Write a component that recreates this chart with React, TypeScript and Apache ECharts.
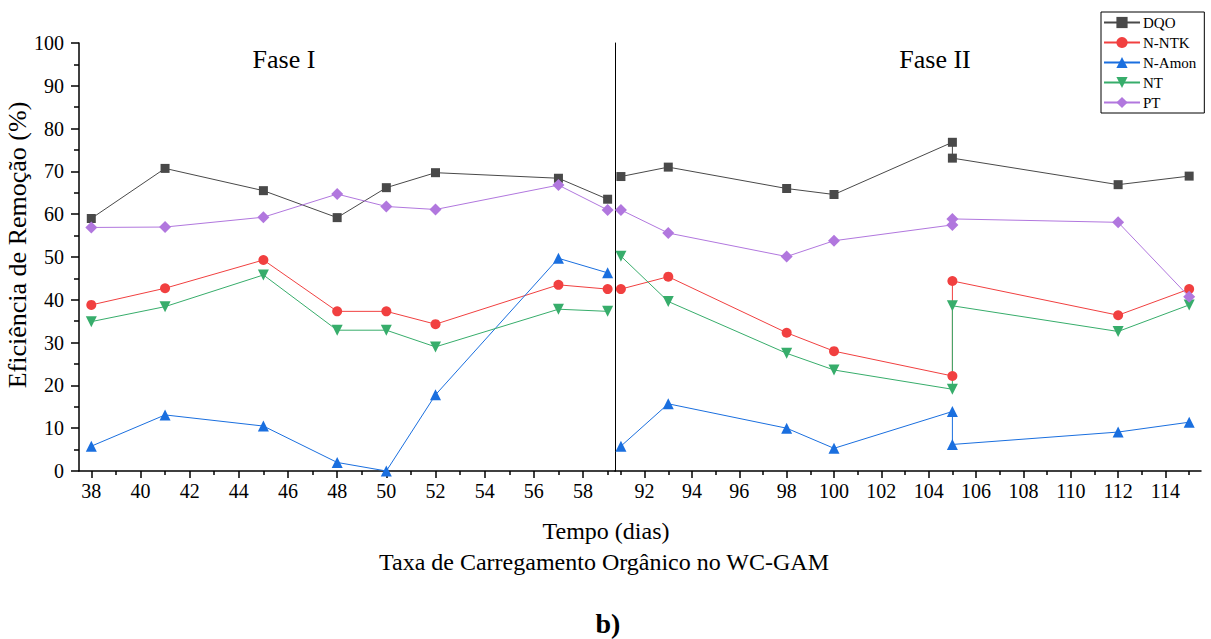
import React, { useEffect, useRef } from "react";
import * as echarts from "echarts";

const FONT = "'Liberation Serif', 'Times New Roman', serif";

const daysFase1 = [38, 41, 45, 48, 50, 52, 57, 59];
const daysFase2 = [91, 93, 98, 100, 105, 105, 112, 115];

const dqo1 = [59.0, 70.7, 65.5, 59.2, 66.2, 69.7, 68.4, 63.5];
const dqo2 = [68.8, 71.0, 66.0, 64.6, 76.8, 73.1, 66.9, 68.9];
const ntk1 = [38.8, 42.7, 49.3, 37.3, 37.3, 34.3, 43.5, 42.5];
const ntk2 = [42.5, 45.4, 32.3, 28.0, 22.2, 44.4, 36.4, 42.5];
const amon1 = [5.8, 13.1, 10.5, 2.0, 0.0, 17.8, 49.7, 46.3];
const amon2 = [5.8, 15.7, 10.0, 5.3, 13.9, 6.2, 9.1, 11.4];
const nt1 = [34.9, 38.4, 45.8, 32.9, 32.9, 29.0, 37.8, 37.3];
const nt2 = [50.2, 39.6, 27.5, 23.6, 19.1, 38.6, 32.6, 38.8];
const pt1 = [56.9, 57.0, 59.3, 64.7, 61.8, 61.1, 66.8, 61.0];
const pt2 = [61.0, 55.6, 50.1, 53.8, 57.5, 58.9, 58.1, 40.7];

const majorTicks1 = [38, 40, 42, 44, 46, 48, 50, 52, 54, 56, 58];
const minorTicks1 = [39, 41, 43, 45, 47, 49, 51, 53, 55, 57, 59];
const majorTicks2 = [92, 94, 96, 98, 100, 102, 104, 106, 108, 110, 112, 114];
const minorTicks2 = [91, 93, 95, 97, 99, 101, 103, 105, 107, 109, 111, 113, 115];

const seriesDefs = [
  { name: "DQO", color: "#494949", symbol: "rect", size: 9, rotate: 0, d1: dqo1, d2: dqo2 },
  { name: "N-NTK", color: "#F14040", symbol: "circle", size: 10, rotate: 0, d1: ntk1, d2: ntk2 },
  { name: "N-Amon", color: "#1A6FDF", symbol: "triangle", size: 11, rotate: 0, d1: amon1, d2: amon2 },
  { name: "NT", color: "#37AD6B", symbol: "triangle", size: 11, rotate: 180, d1: nt1, d2: nt2 },
  { name: "PT", color: "#B177DE", symbol: "diamond", size: 12, rotate: 0, d1: pt1, d2: pt2 },
];

const zip = (xs: number[], ys: number[]) => xs.map((x, i) => [x, ys[i]]);

export default function App() {
  const ref = useRef<HTMLDivElement>(null);
  useEffect(() => {
    if (!ref.current) return;
    const chart = echarts.init(ref.current, undefined, { renderer: "svg" });

    const axisLineStyle = { color: "#000", width: 1.5 };
    const mkXAxis = (gridIndex: number, min: number, max: number, major: number[]) => ({
      type: "value",
      gridIndex,
      min,
      max,
      position: "bottom",
      axisLine: { show: true, onZero: false, lineStyle: axisLineStyle },
      axisTick: { show: true, inside: false, length: 7, customValues: major, lineStyle: { color: "#000", width: 1.5 } },
      axisLabel: { show: true, customValues: major, fontFamily: FONT, fontSize: 20, color: "#000", margin: 10 },
      splitLine: { show: false },
    });
    const mkMinor = (gridIndex: number, min: number, max: number, minor: number[]) => ({
      type: "value",
      gridIndex,
      min,
      max,
      position: "bottom",
      axisLine: { show: false, onZero: false },
      axisTick: { show: true, inside: false, length: 4, customValues: minor, lineStyle: { color: "#000", width: 1.5 } },
      axisLabel: { show: false },
      splitLine: { show: false },
    });

    const series: any[] = [];
    seriesDefs.forEach((s) => {
      const common = {
        type: "line",
        name: s.name,
        symbol: s.symbol,
        symbolSize: s.size,
        symbolRotate: s.rotate,
        showAllSymbol: true,
        lineStyle: { color: s.color, width: 1 },
        itemStyle: { color: s.color },
        emphasis: { disabled: true },
        clip: false,
      };
      series.push({ ...common, xAxisIndex: 0, yAxisIndex: 0, data: zip(daysFase1, s.d1) });
      series.push({ ...common, xAxisIndex: 2, yAxisIndex: 1, data: zip(daysFase2, s.d2) });
    });

    const txt = (text: string, x: number, y: number, fontSize: number, bold = false) => ({
      type: "text",
      x,
      y,
      style: {
        text,
        fontFamily: FONT,
        fontSize,
        fontWeight: bold ? "bold" : "normal",
        fill: "#000",
        align: "center",
        verticalAlign: "middle",
      },
    });

    chart.setOption({
      animation: false,
      backgroundColor: "#fff",
      textStyle: { fontFamily: FONT },
      grid: [
        { left: 79, top: 43, width: 536, height: 428 },
        { left: 615, top: 43, width: 586, height: 428 },
      ],
      xAxis: [
        mkXAxis(0, 37.5, 59.3, majorTicks1),
        mkMinor(0, 37.5, 59.3, minorTicks1),
        mkXAxis(1, 90.75, 115.5, majorTicks2),
        mkMinor(1, 90.75, 115.5, minorTicks2),
      ],
      yAxis: [
        {
          type: "value",
          gridIndex: 0,
          min: 0,
          max: 100,
          interval: 10,
          axisLine: { show: true, lineStyle: axisLineStyle },
          axisTick: { show: true, inside: false, length: 8, lineStyle: { color: "#000", width: 1.5 } },
          minorTick: { show: true, splitNumber: 2, length: 5, lineStyle: { color: "#000", width: 1.5 } },
          axisLabel: { fontFamily: FONT, fontSize: 20, color: "#000", margin: 15 },
          splitLine: { show: false },
          name: "Eficiência de Remoção (%)",
          nameLocation: "middle",
          nameGap: 45,
          nameTextStyle: { fontFamily: FONT, fontSize: 26, color: "#000", padding: [0, 0, 0, 24] },
        },
        {
          type: "value",
          gridIndex: 1,
          min: 0,
          max: 100,
          interval: 10,
          axisLine: { show: true, lineStyle: { color: "#000", width: 1 } },
          axisTick: { show: false },
          axisLabel: { show: false },
          splitLine: { show: false },
        },
      ],
      legend: {
        data: seriesDefs.map((s) => s.name),
        orient: "vertical",
        left: 1101,
        top: 12,
        itemWidth: 36,
        itemHeight: 14,
        itemGap: 5,
        padding: [3, 8, 3, 2],
        borderColor: "#000",
        borderWidth: 1,
        textStyle: { fontFamily: FONT, fontSize: 15, color: "#000", padding: [0, 0, 0, -2] },
        selectedMode: false,
      },
      graphic: [
        txt("Fase I", 284, 59, 26),
        txt("Fase II", 935, 59, 26),
        txt("Tempo (dias)", 606, 531, 24),
        txt("Taxa de Carregamento Orgânico no WC-GAM", 604, 562, 24),
        txt("b)", 608, 623, 28, true),
      ],
      series,
    });

    return () => chart.dispose();
  }, []);

  return <div ref={ref} style={{ width: 1211, height: 639, position: "absolute", left: 0, top: 0 }} />;
}
